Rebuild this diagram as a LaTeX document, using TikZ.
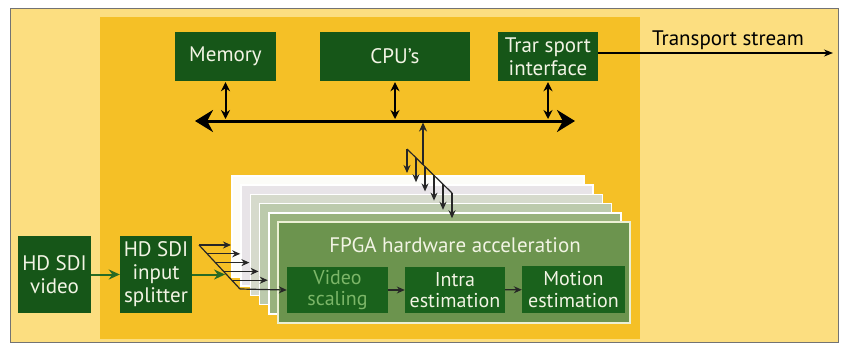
\documentclass[tikz,border=0pt]{standalone}
\usepackage{fontspec}
\setmainfont{PT Sans}
\usetikzlibrary{arrows.meta,calc}

\definecolor{paleyellow}{RGB}{252,222,128}
\definecolor{panelorange}{RGB}{245,192,38}
\definecolor{boxgreen}{RGB}{22,86,24}
\definecolor{innergreen}{RGB}{26,98,28}
\definecolor{cardgreen}{RGB}{108,148,78}
\definecolor{cardedge}{RGB}{236,240,212}
\definecolor{arrowgreen}{RGB}{40,106,36}
\definecolor{boxtext}{RGB}{242,244,228}
\definecolor{blurtext}{RGB}{124,182,104}
\definecolor{cardA}{RGB}{252,252,248}
\definecolor{cardB}{RGB}{232,228,232}
\definecolor{cardC}{RGB}{214,218,204}
\definecolor{cardD}{RGB}{188,202,172}
\definecolor{cardE}{RGB}{152,178,124}

\begin{document}
\begin{tikzpicture}[
  x=1pt,
  y=-1pt,
  font=\fontsize{21}{23}\selectfont,
  darkbox/.style={fill=boxgreen, text=boxtext, align=center, inner sep=0pt},
  innerbox/.style={fill=innergreen, text=boxtext, align=center, inner sep=0pt,
    font=\fontsize{20}{21.5}\selectfont},
  bus/.style={line width=3pt, {Stealth[length=18pt,width=22pt]}-{Stealth[length=18pt,width=22pt]}},
  biarrow/.style={line width=2pt, {Stealth[length=9pt,width=9pt]}-{Stealth[length=9pt,width=9pt]}},
  fanline/.style={line width=1.2pt, black!85},
  fanarrow/.style={line width=1.2pt, black!85, -{Stealth[length=8pt,width=7pt]}},
  greenarrow/.style={line width=2pt, arrowgreen, -{Stealth[length=11pt,width=10pt]}},
  smallarrow/.style={line width=1.2pt, black!85, -{Stealth[length=8pt,width=7pt]}}
]
% frame and panels
\fill[white] (0,0) rectangle (843,346);
\useasboundingbox (0,0) rectangle (843,346);
\filldraw[fill=paleyellow, draw=black!55, line width=0.6pt] (10,8) rectangle (838,342);
\fill[panelorange] (100,17) rectangle (640,339);

% top row
\node[darkbox, minimum width=101, minimum height=49] (memory) at (225.5,56.5) {Memory};
\node[darkbox, minimum width=150, minimum height=49] (cpu) at (395,56.5) {CPU's};
\node[darkbox, minimum width=100, minimum height=49] (tif) at (548,56.5) {Trar sport\\interface};
\node[anchor=center] (streamlabel) at (728,40) {Transport stream};
\coordinate (streamend) at (833,53);
\draw[line width=1.2pt, -{Stealth[length=9pt,width=7pt]}] (tif.east |- streamend) -- (streamend);

% bus
\coordinate (busL) at (195,121);
\coordinate (busR) at (575,121);
\draw[bus] (busL) -- (busR);
\foreach \n in {memory,cpu,tif} {
  \draw[biarrow, shorten <=1pt, shorten >=2pt] (\n.south) -- (\n.south |- busL);
}

% card stack
\foreach \k/\col in {0/cardA,1/cardB,2/cardC,3/cardD,4/cardE} {
  \filldraw[fill=\col, draw=white, line width=1.5pt]
    ({232+9.2*\k},{176+9.2*\k}) rectangle ({584+9.2*\k},{277+9.2*\k});
  \coordinate (cardtop\k) at ({232+9.2*\k},{176+9.2*\k});
}
\node[fill=cardgreen, draw=cardedge, line width=1.5pt, minimum width=352, minimum height=101,
  inner sep=0pt] (fpga) at (454,272.5) {};
\coordinate (cardtop5) at (fpga.north west);
\node[text=boxtext, font=\fontsize{21}{23}\selectfont] (fpgalabel) at (455,245) {FPGA hardware acceleration};

% inner blocks
\node[innerbox, minimum width=101, minimum height=46, text=blurtext] (vscale) at (337.5,290) {Video\\scaling};
\node[innerbox, minimum width=100, minimum height=46] (intra) at (455,290) {Intra\\estimation};
\node[innerbox, minimum width=103, minimum height=47] (motion) at (573.5,289.5) {Motion\\estimation};
\draw[smallarrow] (vscale) -- (intra);
\draw[smallarrow] (intra) -- (motion);

% fan from the bus
\coordinate (fanT) at (407,149);
\coordinate (fanB) at (452,193);
\draw[fanline] (fanT) -- (fanB);
\path ($(fanT)!0.356!(fanB)$) coordinate (fanmid);
\draw[fanline, -{Stealth[length=9pt,width=8pt]}, shorten >=1.5pt] (fanmid) -- (fanmid |- busL);
\foreach \k in {0,...,5} {
  \path ($(fanT)!\k/5!(fanB)$) coordinate (dt\k);
  \draw[fanarrow, shorten >=3pt] (dt\k) -- (dt\k |- cardtop\k);
}

% input side
\node[darkbox, minimum width=73, minimum height=77] (hdvideo) at (54.5,274.5) {HD SDI\\video};
\node[darkbox, minimum width=72, minimum height=77] (splitter) at (156,274.5) {HD SDI\\input\\splitter};
\draw[greenarrow] (hdvideo) -- (splitter);

% fan into the cards
\coordinate (fanL1) at (199,245);
\coordinate (fanL2) at (240,289);
\draw[fanline] (fanL1) -- (fanL2);
\path ($(fanL1)!0.636!(fanL2)$) coordinate (splitin);
\draw[greenarrow] (splitter.east) -- (splitter.east -| splitin);
\foreach \k in {0,...,4} {
  \path ($(fanL1)!\k/5!(fanL2)$) coordinate (dl\k);
  \draw[fanarrow, shorten >=1pt] (dl\k) -- (dl\k -| cardtop\k);
}
\draw[fanarrow] (fanL2) -- (vscale.west);
\end{tikzpicture}
\end{document}
